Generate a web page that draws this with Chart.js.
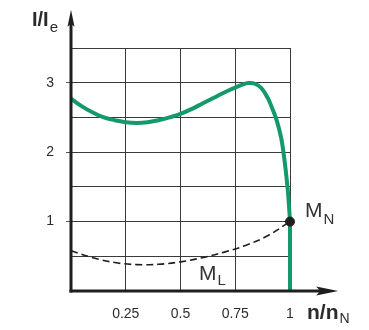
<!DOCTYPE html>
<html><head><meta charset="utf-8">
<script src="https://cdn.jsdelivr.net/npm/chart.js@4"></script>
<style>html,body{margin:0;padding:0;background:#fff;}#wrap{width:369px;height:330px;}</style>
</head><body><div id="wrap"><canvas id="c" width="369" height="330"></canvas></div>
<script>
// Data
const currentX = [0, 0.05, 0.1, 0.15, 0.2, 0.25, 0.3, 0.35, 0.4, 0.45, 0.5, 0.55, 0.6, 0.65, 0.7, 0.75, 0.78, 0.81, 0.84, 0.87, 0.9, 0.92, 0.94, 0.96, 0.97, 0.98, 0.99, 0.996, 1.0];
const currentY = [2.77, 2.66, 2.57, 2.5, 2.46, 2.43, 2.42, 2.43, 2.46, 2.5, 2.55, 2.62, 2.7, 2.78, 2.86, 2.93, 2.97, 2.995, 2.985, 2.92, 2.77, 2.62, 2.45, 2.2, 2.0, 1.75, 1.45, 1.2, 1.0];
const dropX = [1.0, 1.0];
const dropY = [1.0, 0.0];
const loadX = [0, 0.1, 0.2, 0.3, 0.4, 0.5, 0.6, 0.7, 0.8, 0.9, 1.0, 1.06];
const loadY = [0.58, 0.48, 0.41, 0.38, 0.385, 0.42, 0.48, 0.56, 0.66, 0.8, 1.0, 1.11];
const nominalPoint = [1.0, 1.0];
const xTicks = [0.25, 0.5, 0.75, 1];
const yTicks = [1, 2, 3];
const yTitle = ['I/I', 'e'];
const xTitle = ['n/n', 'N'];
const labelMN = ['M', 'N'];
const labelML = ['M', 'L'];

const pts = (xs, ys) => xs.map((x, i) => ({x: x, y: ys[i]}));
const GREEN = '#14996a';
const TXT = '#2b2b2b';

const overlay = {
  id: 'overlay',
  afterDraw(chart) {
    const ctx = chart.ctx;
    const xs = chart.scales.x, ys = chart.scales.y;
    const x0 = xs.getPixelForValue(0), y0 = ys.getPixelForValue(0);
    ctx.save();
    ctx.strokeStyle = '#1e1e1e';
    ctx.fillStyle = '#1e1e1e';
    ctx.lineWidth = 3;
    const yTop = ys.getPixelForValue(4.05);
    ctx.beginPath(); ctx.moveTo(x0, y0 + 1.5); ctx.lineTo(x0, yTop + 10); ctx.stroke();
    ctx.beginPath(); ctx.moveTo(x0, yTop); ctx.lineTo(x0 - 3.5, yTop + 17); ctx.lineTo(x0, yTop + 14); ctx.lineTo(x0 + 3.5, yTop + 17); ctx.closePath(); ctx.fill();
    const xEnd = xs.getPixelForValue(1.22);
    ctx.beginPath(); ctx.moveTo(x0 - 1.5, y0); ctx.lineTo(xEnd - 10, y0); ctx.stroke();
    ctx.beginPath(); ctx.moveTo(xEnd, y0); ctx.lineTo(xEnd - 22, y0 - 4.5); ctx.lineTo(xEnd - 18, y0); ctx.lineTo(xEnd - 22, y0 + 4.5); ctx.closePath(); ctx.fill();

    ctx.fillStyle = TXT;
    ctx.textBaseline = 'alphabetic';
    function sub(parts, x, y, bigFont, smallFont, dy) {
      ctx.font = bigFont; ctx.fillText(parts[0], x, y);
      const w = ctx.measureText(parts[0]).width;
      ctx.font = smallFont; ctx.fillText(parts[1], x + w + 1, y + dy);
    }
    ctx.textAlign = 'left';
    sub(yTitle, 32, 26, 'bold 20px "Liberation Sans", Arial, sans-serif', '15px "Liberation Sans", Arial, sans-serif', 6);
    sub(xTitle, 307, 319, 'bold 21px "Liberation Sans", Arial, sans-serif', '14px "Liberation Sans", Arial, sans-serif', 4);
    ctx.fillStyle = '#333';
    const mx = xs.getPixelForValue(1.0), my = ys.getPixelForValue(1.0);
    sub(labelMN, mx + 15, my - 5, '21px "Liberation Sans", Arial, sans-serif', '15px "Liberation Sans", Arial, sans-serif', 7);
    const lx = xs.getPixelForValue(0.585), ly = ys.getPixelForValue(0.165);
    sub(labelML, lx, ly, '21px "Liberation Sans", Arial, sans-serif', '15px "Liberation Sans", Arial, sans-serif', 5);
    ctx.restore();
  }
};

new Chart(document.getElementById('c'), {
  type: 'scatter',
  data: {
    datasets: [
      {data: pts(loadX, loadY), showLine: true, borderColor: '#1e1e1e', borderWidth: 1.6, borderDash: [7, 4], pointRadius: 0, tension: 0.4, clip: false, order: 3},
      {data: pts(currentX, currentY), showLine: true, borderColor: GREEN, borderWidth: 4, pointRadius: 0, tension: 0.4, clip: false, order: 2},
      {data: pts(dropX, dropY), showLine: true, borderColor: GREEN, borderWidth: 4, pointRadius: 0, tension: 0, clip: false, order: 2},
      {data: [{x: nominalPoint[0], y: nominalPoint[1]}], showLine: false, pointRadius: 4.5, pointBackgroundColor: '#1e1e1e', pointBorderColor: '#1e1e1e', clip: false, order: 1}
    ]
  },
  options: {
    responsive: false,
    animation: false,
    events: [],
    layout: {padding: {top: 48, right: 79, left: 0, bottom: 0}},
    plugins: {legend: {display: false}, tooltip: {enabled: false}},
    scales: {
      x: {
        type: 'linear', min: 0, max: 1,
        afterBuildTicks(s) { s.ticks = [0].concat(xTicks).map(v => ({value: v})); },
        afterFit(s) { s.height = 39; },
        border: {display: false},
        grid: {color: (c) => c.tick && c.tick.value === 0 ? 'rgba(0,0,0,0)' : '#3a3a3a', lineWidth: 1, drawTicks: false},
        ticks: {padding: 15, color: TXT, font: {family: '"Liberation Sans", Arial, sans-serif', size: 14}, maxRotation: 0, autoSkip: false,
          callback: (v) => xTicks.includes(v) ? String(v) : ''}
      },
      y: {
        type: 'linear', min: 0, max: 3.5,
        afterBuildTicks(s) { const t = []; for (let v = 0; v <= 3.5001; v += 0.5) t.push({value: Math.round(v * 10) / 10}); s.ticks = t; },
        afterFit(s) { s.width = 71; },
        border: {display: false},
        grid: {color: (c) => c.tick && c.tick.value === 0 ? 'rgba(0,0,0,0)' : '#3a3a3a', lineWidth: 1, tickLength: 5,
          tickColor: (c) => c.tick && yTicks.includes(c.tick.value) ? '#555' : 'rgba(0,0,0,0)'},
        ticks: {padding: 12, color: TXT, font: {family: '"Liberation Sans", Arial, sans-serif', size: 14}, autoSkip: false,
          callback: (v) => yTicks.includes(v) ? String(v) : ''}
      }
    }
  },
  plugins: [overlay]
});
</script>
</body></html>
